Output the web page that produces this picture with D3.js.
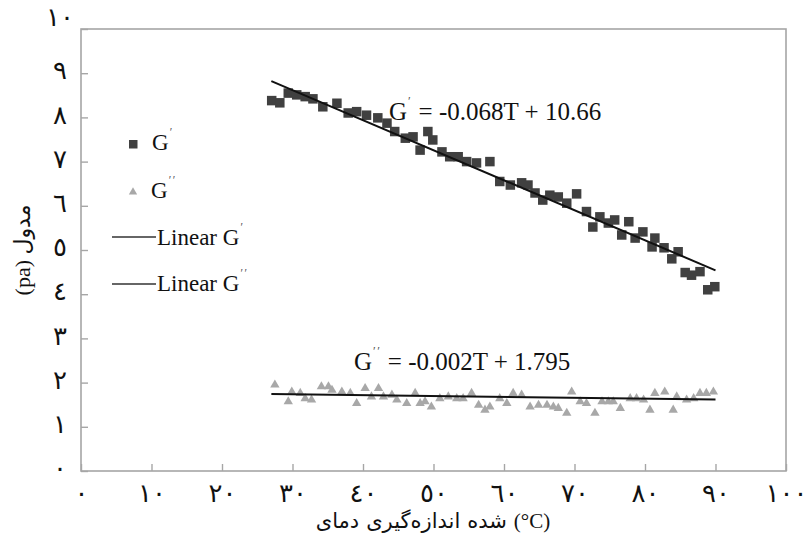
<!DOCTYPE html>
<html><head><meta charset="utf-8">
<script src="https://cdn.jsdelivr.net/npm/d3@7"></script>
<style>body{margin:0;background:#fff}svg{display:block}</style>
</head><body>
<svg id="chart" width="808" height="541"></svg>
<script>
// ---- data ----
const xTicks = [0,10,20,30,40,50,60,70,80,90,100];
const xTickLabels = ["٠","١٠","٢٠","٣٠","٤٠","٥٠","٦٠","٧٠","٨٠","٩٠","١٠٠"];
const yTicks = [0,1,2,3,4,5,6,7,8,9,10];
const yTickLabels = ["٠","١","٢","٣","٤","٥","٦","٧","٨","٩","١٠"];

const gPrimeT = [27.05,28.2,29.4,30.6,31.8,32.9,34.3,36.3,37.9,39.1,40.5,42.1,43.4,44.5,46.0,47.1,48.1,49.2,49.9,51.2,52.3,53.5,54.7,56.1,58.0,59.4,60.9,62.5,63.4,64.4,65.5,66.5,67.7,68.9,70.3,71.7,72.6,73.6,74.8,75.7,76.7,77.7,78.6,79.7,81.0,81.4,82.7,83.8,84.7,85.7,86.6,87.8,88.9,89.9];
const gPrimeV = [8.38,8.33,8.55,8.51,8.47,8.42,8.24,8.32,8.10,8.13,8.05,7.99,7.87,7.68,7.53,7.56,7.26,7.68,7.49,7.22,7.11,7.11,7.00,6.97,7.00,6.55,6.47,6.52,6.47,6.29,6.13,6.24,6.20,6.06,6.27,5.87,5.52,5.75,5.61,5.68,5.34,5.64,5.27,5.41,5.07,5.27,5.05,4.80,4.96,4.49,4.43,4.51,4.10,4.17];

const gDoubleT = [27.5,29.4,29.9,31.1,31.8,32.7,34.1,35.1,35.6,37.0,38.2,39.1,40.3,41.2,42.2,42.9,44.1,44.8,46.2,47.4,48.1,48.8,49.7,50.9,52.1,53.3,54.2,55.4,56.4,57.3,58.0,59.4,60.4,61.3,62.5,63.7,64.9,66.1,67.0,67.7,68.9,69.6,70.8,71.7,72.9,73.9,74.8,75.5,76.5,77.9,78.8,79.8,80.7,81.4,82.8,84.0,84.5,85.9,86.9,87.8,88.7,89.7];
const gDoubleV = [1.95,1.57,1.79,1.76,1.64,1.61,1.91,1.91,1.83,1.79,1.76,1.53,1.87,1.68,1.87,1.68,1.72,1.61,1.53,1.76,1.53,1.57,1.45,1.64,1.68,1.64,1.64,1.76,1.49,1.38,1.45,1.64,1.53,1.76,1.72,1.45,1.49,1.49,1.45,1.42,1.31,1.79,1.57,1.53,1.31,1.57,1.57,1.57,1.42,1.64,1.64,1.61,1.38,1.76,1.79,1.38,1.68,1.61,1.64,1.76,1.76,1.79];

const fitPrimeT = [27, 90];
const fitPrimeV = [8.82, 4.54];
const fitDoubleT = [27, 90];
const fitDoubleV = [1.741, 1.615];

const eqPrime = ["G", "′", " = -0.068T + 10.66"];
const eqDouble = ["G", "′′", " = -0.002T + 1.795"];
const legendLabels = [["G","′"],["G","′′"],["Linear G","′"],["Linear G","′′"]];
const xTitleWords = ["دمای", "اندازه‌گیری", "شده", "(°C)"]; // visual left-to-right order
const yTitle = "(pa) مدول";

// ---- layout ----
const svg = d3.select("#chart");
const L = 81, R = 786, T = 29, B = 471;
const x = d3.scaleLinear().domain([0,100]).range([L,R]);
const y = d3.scaleLinear().domain([0,10]).range([B,T]);
const serif = "'Liberation Serif','Times New Roman',serif";
const arab = "'Liberation Serif','DejaVu Sans',serif";
const axisCol = "#a6a6a6";

// frame
svg.append("rect").attr("x",L).attr("y",T).attr("width",R-L).attr("height",B-T)
  .attr("fill","none").attr("stroke",axisCol).attr("stroke-width",1.6);

// x axis
const xa = svg.append("g").attr("transform",`translate(0,${B})`)
  .call(d3.axisBottom(x).tickValues(xTicks).tickSizeInner(-7).tickSizeOuter(0)
    .tickFormat((d,i)=>xTickLabels[i]).tickPadding(13));
xa.select(".domain").remove();
xa.selectAll("line").attr("stroke",axisCol).attr("stroke-width",1.4);
xa.selectAll("text").attr("font-family",arab).attr("font-size",26).attr("fill","#111");

// y axis
const ya = svg.append("g").attr("transform",`translate(${L},0)`)
  .call(d3.axisLeft(y).tickValues(yTicks).tickSizeInner(-7).tickSizeOuter(0)
    .tickFormat((d,i)=>yTickLabels[i]).tickPadding(21));
ya.select(".domain").remove();
ya.selectAll("line").attr("stroke",axisCol).attr("stroke-width",1.4);
ya.selectAll("text").attr("font-family",arab).attr("font-size",26).attr("fill","#111")
  .attr("text-anchor","middle").attr("dy","0.22em");
ya.selectAll(".tick").filter(d=>d===10).select("text").attr("dy","-0.12em");

// x title: words placed left to right
const xt = svg.append("g");
const wordEls = xTitleWords.map(w => xt.append("text").attr("y",528)
  .attr("font-family",arab).attr("font-size",21).attr("fill","#111").text(w));
const space = 7;
const widths = wordEls.map(e => e.node().getComputedTextLength());
const total = d3.sum(widths) + space*(widths.length-1);
let cx = 433 - total/2;
wordEls.forEach((e,i)=>{ e.attr("x",cx); cx += widths[i] + space; });

svg.append("text").attr("transform","translate(30,250) rotate(-90)").attr("text-anchor","middle")
  .attr("font-family",arab).attr("font-size",22).attr("fill","#111")
  .attr("direction","ltr").text(yTitle);

// points
const primeData = gPrimeT.map((t,i)=>({t, v:gPrimeV[i]}));
const dblData = gDoubleT.map((t,i)=>({t, v:gDoubleV[i]}));
svg.append("g").selectAll("path").data(dblData).join("path")
  .attr("d", d3.symbol(d3.symbolTriangle, 38))
  .attr("transform", d=>`translate(${x(d.t)},${y(d.v)})`)
  .attr("fill","#a8a8a8");
svg.append("g").selectAll("rect").data(primeData).join("rect")
  .attr("x", d=>x(d.t)-4.75).attr("y", d=>y(d.v)-4.75).attr("width",9.5).attr("height",9.5)
  .attr("fill","#404040");

// fit lines
const line = d3.line().x(d=>x(d.t)).y(d=>y(d.v));
svg.append("path").datum(fitPrimeT.map((t,i)=>({t,v:fitPrimeV[i]}))).attr("d",line)
  .attr("stroke","#111").attr("stroke-width",2).attr("fill","none");
svg.append("path").datum(fitDoubleT.map((t,i)=>({t,v:fitDoubleV[i]}))).attr("d",line)
  .attr("stroke","#111").attr("stroke-width",2).attr("fill","none");

// prime-marked text
function primeText(g, px, py, parts, size, markDx) {
  const t = g.append("text").attr("x",px).attr("y",py).attr("font-family",serif)
    .attr("font-size",size).attr("fill","#111").attr("xml:space","preserve");
  t.append("tspan").text(parts[0]);
  t.append("tspan").attr("font-size",size*0.5).attr("dy",-size*0.6).attr("dx",1)
    .attr("letter-spacing",1.5).attr("fill","#555").text(parts[1]);
  if (parts[2]) t.append("tspan").attr("dy",size*0.6).attr("dx",markDx).text(parts[2]);
  return t;
}
primeText(svg, 389, 120, eqPrime, 25, 0);
primeText(svg, 354, 370, eqDouble, 25, 0);

// legend
const lg = svg.append("g");
lg.append("rect").attr("x",129).attr("y",140).attr("width",8.5).attr("height",8.5).attr("fill","#404040");
lg.append("path").attr("d",d3.symbol(d3.symbolTriangle,30)).attr("transform","translate(133,192)").attr("fill","#a8a8a8");
lg.append("line").attr("x1",112).attr("x2",156).attr("y1",237).attr("y2",237).attr("stroke","#333").attr("stroke-width",1.6);
lg.append("line").attr("x1",112).attr("x2",156).attr("y1",284).attr("y2",284).attr("stroke","#333").attr("stroke-width",1.6);
primeText(lg, 152, 150, legendLabels[0], 23, 0);
primeText(lg, 151, 198, legendLabels[1], 23, 0);
primeText(lg, 157, 245, legendLabels[2], 23, 0);
primeText(lg, 157, 291, legendLabels[3], 23, 0);
</script>
</body></html>
